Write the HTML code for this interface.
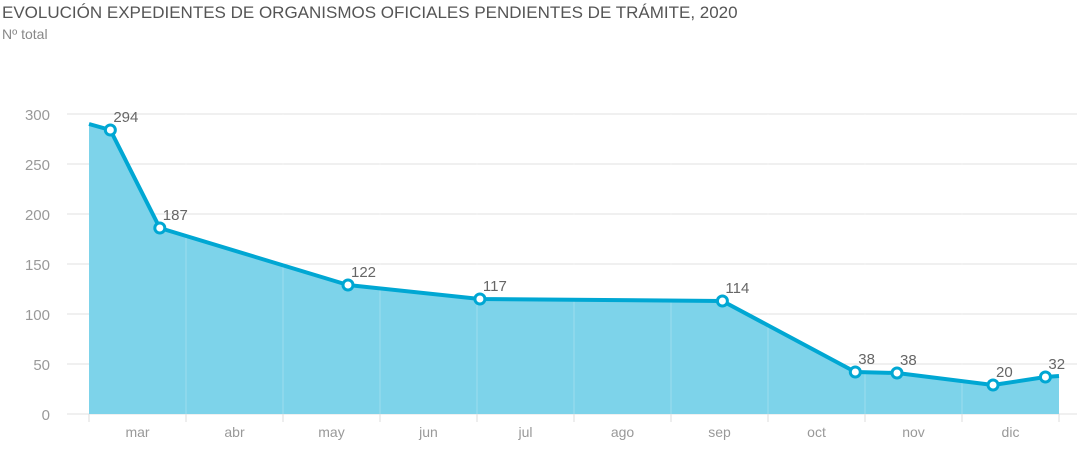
<!DOCTYPE html>
<html><head><meta charset="utf-8"><style>
body{margin:0;background:#fff;font-family:"Liberation Sans","DejaVu Sans",sans-serif}
</style></head><body>
<svg width="1087" height="449" xmlns="http://www.w3.org/2000/svg">
<text x="2" y="18" font-size="17" fill="#555">EVOLUCIÓN EXPEDIENTES DE ORGANISMOS OFICIALES PENDIENTES DE TRÁMITE, 2020</text>
<text x="2" y="39" font-size="14" fill="#888">Nº total</text>
<g id="g"></g>
</svg>
<script>
const months=["mar","abr","may","jun","jul","ago","sep","oct","nov","dic"];
const yTicks=[0,50,100,150,200,250,300];
const pointPos=[0.22,0.73,2.67,4.03,6.53,7.9,8.33,9.32,9.86];
const pointVals=[284,186,129,115,113,42,41,29,37];
const pointLabels=["294","187","122","117","114","38","38","20","32"];
const startVal=290, endVal=38;
const NS="http://www.w3.org/2000/svg";
const g=document.getElementById('g');
const x=t=>89+t*97, y=v=>414-v;
function el(tag,attrs){const e=document.createElementNS(NS,tag);for(const k in attrs)e.setAttribute(k,attrs[k]);g.appendChild(e);return e;}
yTicks.forEach(v=>{
 const l=el('line',{x1:67,x2:1077,y1:y(v),y2:y(v),stroke:'#e2e2e2','stroke-width':1});
 
 
 const t=el('text',{x:50,y:y(v)+6,'font-size':15,fill:'#999','text-anchor':'end'});t.textContent=v;
 
 
});
const pts=[[0,startVal]].concat(pointPos.map((p,i)=>[p,pointVals[i]])).concat([[months.length,endVal]]);
const area=el('path',{d:'M'+x(0)+','+y(0)+pts.map(p=>'L'+x(p[0])+','+y(p[1])).join('')+'L'+x(months.length)+','+y(0)+'Z',fill:'#7dd3ea'});


for(let i=0;i<=months.length;i++){
 const l=el('line',{x1:x(i),x2:x(i),y1:y(0),y2:y(0)+8,stroke:'#ddd'});
 
 
 if(i>0&&i<months.length){const v=el('line',{x1:x(i),x2:x(i),y1:y(300),y2:y(0),stroke:'rgba(255,255,255,0.25)'});
 
 }
}
months.forEach((m,i)=>{const t=el('text',{x:x(i+0.5),y:437,'font-size':14,fill:'#999','text-anchor':'middle'});t.textContent=m;
 
 });
const line=el('polyline',{points:pts.map(p=>x(p[0])+','+y(p[1])).join(' '),fill:'none',stroke:'#00a7d3','stroke-width':4,'stroke-linejoin':'round'});


pointPos.forEach((p,i)=>{
 const c=el('circle',{cx:x(p),cy:y(pointVals[i]),r:5,fill:'#fff',stroke:'#00a7d3','stroke-width':3});
 
 
 const t=el('text',{x:x(p)+3,y:y(pointVals[i])-8,'font-size':15,fill:'#666'});t.textContent=pointLabels[i];
 
 
});
</script>
</body></html>
